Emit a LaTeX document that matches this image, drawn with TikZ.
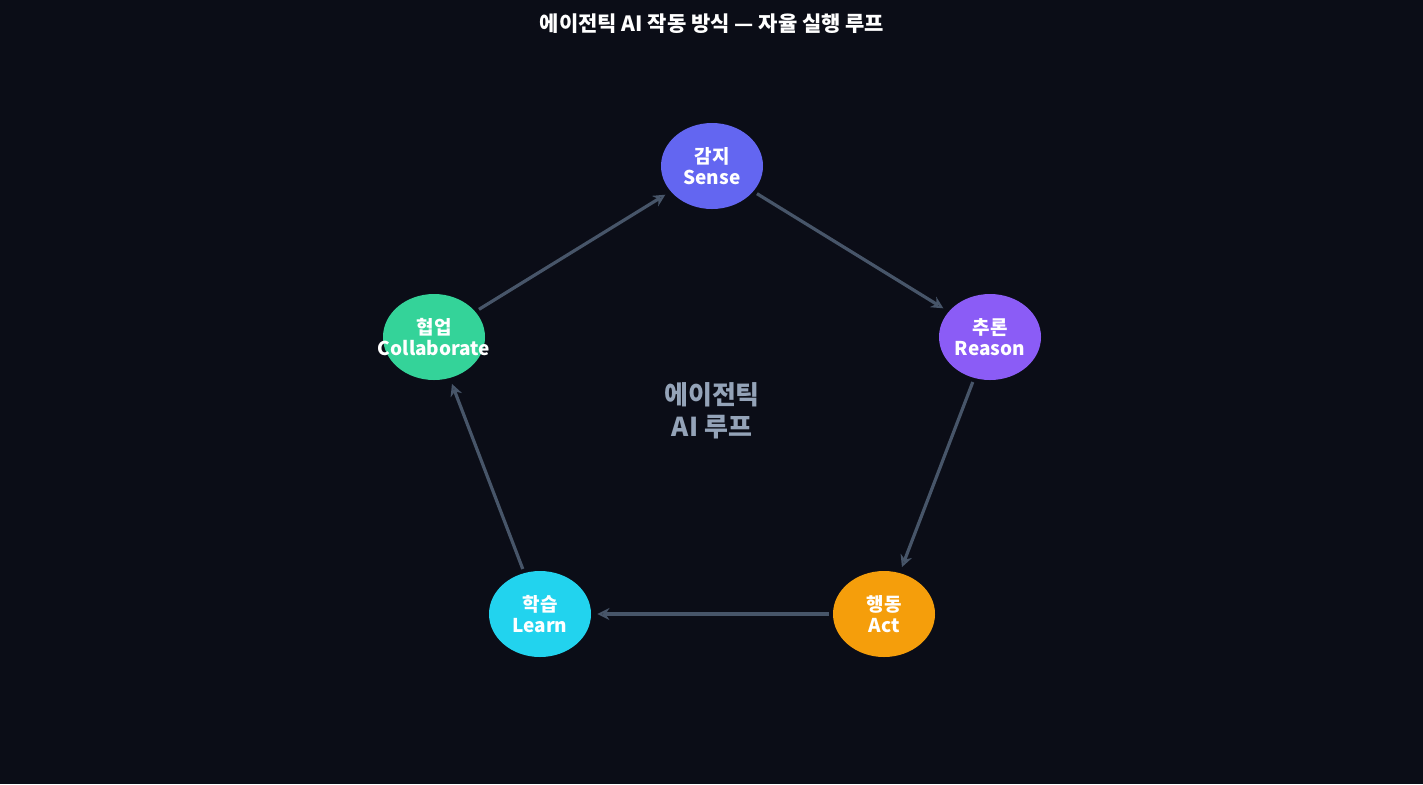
\documentclass[tikz,border=0pt]{standalone}
\usepackage{fontspec}
\setmainfont{Noto Sans CJK KR}
\usetikzlibrary{shapes.geometric,arrows.meta}
\definecolor{bgdark}{HTML}{0B0D17}
\definecolor{edgegray}{HTML}{475569}
\definecolor{midgray}{HTML}{94A3B8}
\definecolor{cSense}{HTML}{6366F1}
\definecolor{cReason}{HTML}{8B5CF6}
\definecolor{cAct}{HTML}{F59E0B}
\definecolor{cLearn}{HTML}{22D3EE}
\definecolor{cCollab}{HTML}{34D399}
\begin{document}
\begin{tikzpicture}[x=0.5pt,y=-0.5pt]
\tikzstyle{punkt}=[ellipse, minimum width=51pt, minimum height=43pt, inner xsep=-20pt, inner ysep=0pt, text=white, font=\fontsize{9.5}{10.5}\selectfont\bfseries, align=center]
\tikzstyle{kant}=[draw=edgegray, line width=1.6pt, -{Stealth[length=6pt,width=6pt,open]}, shorten >=3pt, shorten <=2pt]

\fill[bgdark] (0,0) rectangle (1423,784);
\node[text=white, font=\fontsize{10.5}{12}\selectfont\bfseries] (title) at (712,24) {에이전틱 AI 작동 방식 — 자율 실행 루프};
\node[text=midgray, font=\fontsize{13}{16}\selectfont\bfseries, align=center] (center) at (712,411) {에이전틱\\AI 루프};

\node[punkt, fill=cSense] (sense) at (712,166) {감지\\Sense};
\node[punkt, fill=cReason] (reason) at (990,337) {추론\\Reason};
\node[punkt, fill=cAct] (act) at (884,614) {행동\\Act};
\node[punkt, fill=cLearn] (learn) at (540,614) {학습\\Learn};
\node[punkt, fill=cCollab] (collab) at (434,337) {협업\\Collaborate};

\draw[kant] (sense) -- (reason);
\draw[kant] (reason) -- (act);
\draw[kant] (act) -- (learn);
\draw[kant] (learn) -- (collab);
\draw[kant] (collab) -- (sense);
\end{tikzpicture}
\end{document}
